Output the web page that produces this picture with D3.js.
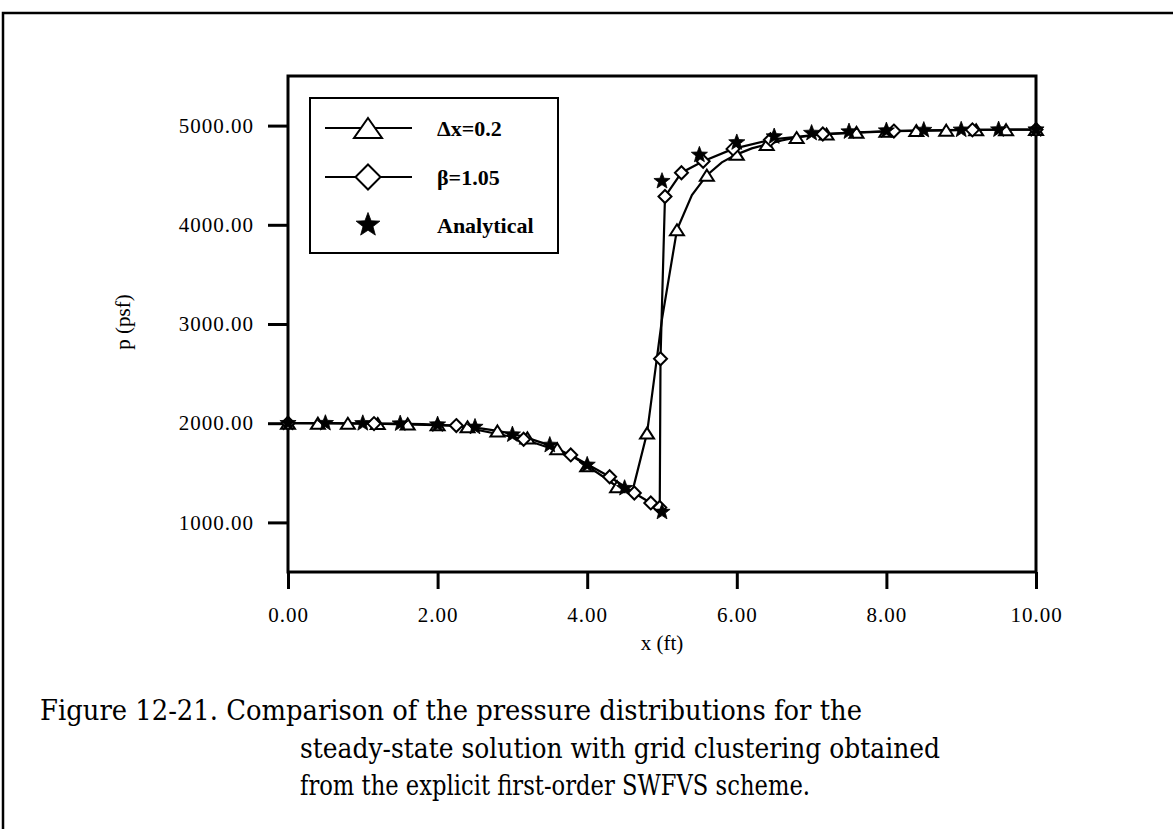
<!DOCTYPE html>
<html>
<head>
<meta charset="utf-8">
<script src="https://d3js.org/d3.v7.min.js"></script>
<style>
    body{margin:0;background:#fff;}
    svg{display:block;}
    .tick text{font-family:"Liberation Serif","Times New Roman",serif;font-size:21px;letter-spacing:1px;fill:#000;}
    .tick line{stroke:#000;stroke-width:3;}
</style>
</head>
<body>
<script>
//wrap everything in a self-executing anonymous function
(function(){

    //x positions (ft) and pressures (psf) for the uniform grid, dx = 0.2
    var uniformX = [0,0.2,0.4,0.6,0.8,1.0,1.2,1.4,1.6,1.8,2.0,2.2,2.4,2.6,2.8,3.0,3.2,3.4,3.6,3.8,
                    4.0,4.2,4.4,4.6,4.8,5.0,5.2,5.4,5.6,5.8,6.0,6.2,6.4,6.6,6.8,7.0,7.2,7.4,7.6,7.8,
                    8.0,8.2,8.4,8.6,8.8,9.0,9.2,9.4,9.6,9.8,10.0];
    var uniformP = [2000,2000,2000,2000,1999,1998,1997,1995,1993,1990,1984,1976,1963,1946,1922,1892,1852,1802,1742,1668,
                    1570,1468,1360,1300,1900,3050,3950,4300,4500,4630,4710,4770,4810,4850,4880,4900,4915,4925,4932,4938,
                    4943,4947,4950,4952,4954,4956,4957,4958,4959,4960,4960];
    var markerEvery = 2; //a triangle on every other grid point

    //clustered grid, beta = 1.05
    var clusterX = [0,1.15,2.25,3.15,3.78,4.3,4.63,4.85,4.97,4.98,5.04,5.26,5.55,5.95,6.45,7.15,8.1,9.15,10.0];
    var clusterP = [2000,1996,1976,1838,1680,1460,1296,1196,1150,2650,4285,4525,4640,4765,4858,4915,4945,4957,4960];

    //exact solution, markers only
    var exactX = [0,0.5,1.0,1.5,2.0,2.5,3.0,3.5,4.0,4.5,5.0,5.0,5.5,6.0,6.5,7.0,7.5,8.0,8.5,9.0,9.5,10.0];
    var exactP = [2000,2000,1999,1996,1986,1962,1885,1780,1580,1345,1105,4440,4705,4830,4890,4925,4940,4950,4955,4958,4960,4960];

    //axis ticks and labels
    var xTicks = [0,2,4,6,8,10];
    var yTicks = [1000,2000,3000,4000,5000];
    var legendLabels = ["\u0394x=0.2","\u03b2=1.05","Analytical"];
    var captionLines = ["Figure 12-21. Comparison of the pressure distributions for the",
                        "steady-state solution with grid clustering obtained",
                        "from the explicit first-order SWFVS scheme."];

    window.onload = setChart();

    function setChart(){

        var width = 1173,
            height = 829;

        var svg = d3.select("body")
            .append("svg")
            .attr("width",width)
            .attr("height",height);

        //outer frame of the scanned page, only top and left show
        svg.append("path")
            .attr("d","M3,829 L3,13 L1173,13")
            .attr("fill","none")
            .attr("stroke","#000")
            .attr("stroke-width",2.5);

        //plot area
        var x = d3.scaleLinear().domain([0,10]).range([288,1036]);
        var y = d3.scaleLinear().domain([500,5500]).range([572,76]);

        svg.append("g")
            .attr("transform","translate(0,572)")
            .call(d3.axisBottom(x).tickValues(xTicks).tickFormat(d3.format(".2f")).tickSize(17).tickSizeOuter(0).tickPadding(18))
            .call(function(g){ g.select(".domain").remove(); });

        svg.append("g")
            .attr("transform","translate(288,0)")
            .call(d3.axisLeft(y).tickValues(yTicks).tickFormat(d3.format(".2f")).tickSize(20).tickSizeOuter(0).tickPadding(14))
            .call(function(g){ g.select(".domain").remove(); });

        //frame round the plot
        svg.append("rect")
            .attr("x",x(0))
            .attr("y",y(5500))
            .attr("width",x(10)-x(0))
            .attr("height",y(500)-y(5500))
            .attr("fill","none")
            .attr("stroke","#000")
            .attr("stroke-width",3);

        //axis titles
        svg.append("text")
            .attr("x",(x(0)+x(10))/2)
            .attr("y",650)
            .attr("text-anchor","middle")
            .style("font-family","Liberation Serif, serif")
            .style("font-size","21px")
            .text("x (ft)");

        svg.append("text")
            .attr("transform","translate(130,322) rotate(-90)")
            .attr("text-anchor","middle")
            .style("font-family","Liberation Serif, serif")
            .style("font-size","21px")
            .text("p (psf)");

        var uniform = uniformX.map(function(d,i){ return [d,uniformP[i]]; });
        var cluster = clusterX.map(function(d,i){ return [d,clusterP[i]]; });
        var exact = exactX.map(function(d,i){ return [d,exactP[i]]; });

        var line = d3.line()
            .x(function(d){ return x(d[0]); })
            .y(function(d){ return y(d[1]); });

        //series lines
        [uniform,cluster].forEach(function(s){
            svg.append("path")
                .datum(s)
                .attr("d",line)
                .attr("fill","none")
                .attr("stroke","#000")
                .attr("stroke-width",2.2);
        });

        //markers
        addMarkers(svg, uniform.filter(function(d,i){ return i % markerEvery == 0; }), triangle(14,11), x, y);
        addMarkers(svg, cluster, diamond(13), x, y);
        addMarkers(svg, exact, star(8.5), x, y);

        setLegend(svg);
        setCaption(svg);
    };

    function addMarkers(svg, data, shape, x, y){
        svg.append("g")
            .selectAll("path")
            .data(data)
            .enter()
            .append("path")
            .attr("transform",function(d){ return "translate(" + x(d[0]) + "," + y(d[1]) + ")"; })
            .attr("d",shape.d)
            .attr("fill",shape.fill)
            .attr("stroke","#000")
            .attr("stroke-width",shape.sw);
    };

    //marker shapes
    function triangle(w,h){
        return {d:"M0," + (-h/2) + "L" + (w/2) + "," + (h/2) + "L" + (-w/2) + "," + (h/2) + "Z", fill:"#fff", sw:2};
    };
    function diamond(s){
        var r = s/2;
        return {d:"M0," + (-r) + "L" + r + ",0L0," + r + "L" + (-r) + ",0Z", fill:"#fff", sw:2};
    };
    function star(r){
        var pts = [];
        for (var i=0; i<10; i++){
            var a = -Math.PI/2 + i*Math.PI/5;
            var rr = i % 2 == 0 ? r : r*0.42;
            pts.push([rr*Math.cos(a), rr*Math.sin(a)]);
        }
        return {d:"M" + pts.join("L") + "Z", fill:"#000", sw:0.8};
    };

    function setLegend(svg){
        var g = svg.append("g");

        g.append("rect")
            .attr("x",310)
            .attr("y",98)
            .attr("width",248)
            .attr("height",155)
            .attr("fill","#fff")
            .attr("stroke","#000")
            .attr("stroke-width",2);

        var rows = [128,177,225];
        var shapes = [triangle(28,20), diamond(25), star(12.5)];

        rows.forEach(function(ry,i){
            if (i < 2){
                g.append("line")
                    .attr("x1",325).attr("x2",412)
                    .attr("y1",ry).attr("y2",ry)
                    .attr("stroke","#000")
                    .attr("stroke-width",2);
            }
            g.append("path")
                .attr("transform","translate(368," + ry + ")")
                .attr("d",shapes[i].d)
                .attr("fill",shapes[i].fill)
                .attr("stroke","#000")
                .attr("stroke-width",shapes[i].sw);
            g.append("text")
                .attr("x",437)
                .attr("y",ry + 8)
                .style("font-family","Liberation Serif, serif")
                .style("font-size","22px")
                .style("font-weight","bold")
                .text(legendLabels[i]);
        });
    };

    function setCaption(svg){
        var starts = [40,300,300],
            ends = [862,940,810],
            bases = [720,758,795];

        svg.selectAll(".caption")
            .data(captionLines)
            .enter()
            .append("text")
            .attr("class","caption")
            .attr("x",function(d,i){ return starts[i]; })
            .attr("y",function(d,i){ return bases[i]; })
            .attr("textLength",function(d,i){ return ends[i] - starts[i]; })
            .attr("lengthAdjust","spacingAndGlyphs")
            .style("font-family","DejaVu Serif, serif")
            .style("font-size","27px")
            .text(function(d){ return d; });
    };
})();
</script>
</body>
</html>
